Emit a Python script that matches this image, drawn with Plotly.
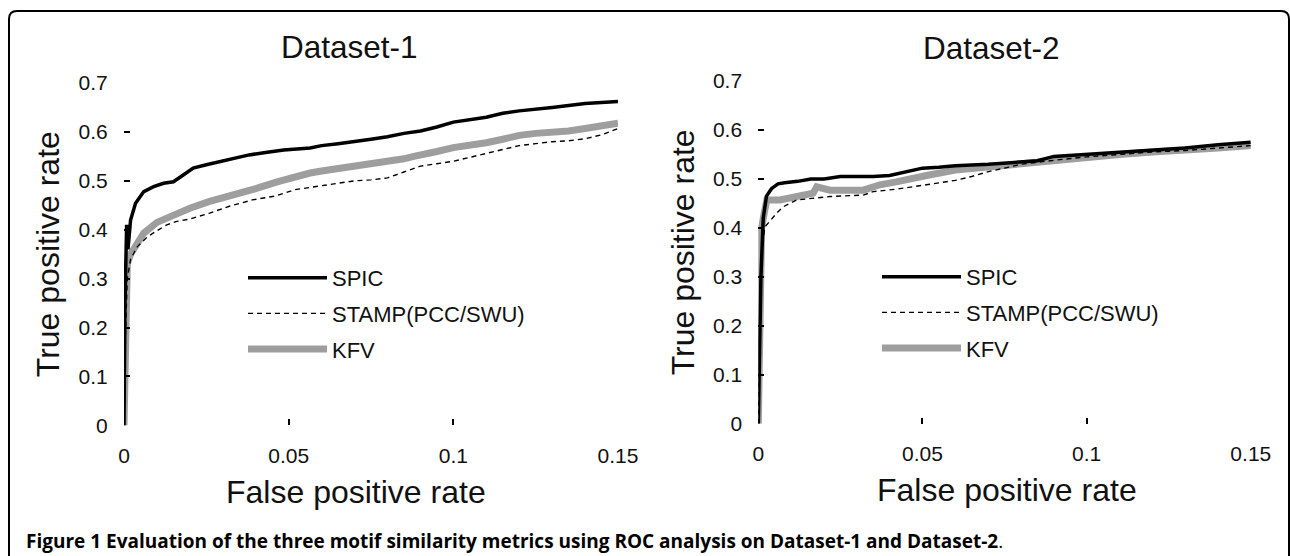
import plotly.graph_objects as go

# ---------------- data ----------------
series_names = ["SPIC", "STAMP(PCC/SWU)", "KFV"]
panel_titles = ["Dataset-1", "Dataset-2"]
x_title = "False positive rate"
y_title = "True positive rate"
caption_bold = "Figure 1 Evaluation of the three motif similarity metrics using ROC analysis on Dataset-1 and Dataset-2"

# Dataset-1
d1_spic_x = [0, 0.0003, 0.0008, 0.0012, 0.002, 0.0035, 0.006, 0.009, 0.012, 0.015, 0.018, 0.021, 0.025, 0.029,
             0.034, 0.038, 0.043, 0.0485, 0.0565, 0.06, 0.065, 0.07, 0.075, 0.08, 0.085, 0.09, 0.095, 0.1,
             0.105, 0.11, 0.115, 0.12, 0.13, 0.14, 0.15]
d1_spic_y = [0, 0.25, 0.41, 0.36, 0.42, 0.454, 0.478, 0.488, 0.495, 0.498, 0.512, 0.526, 0.533, 0.539,
             0.546, 0.553, 0.558, 0.563, 0.567, 0.572, 0.576, 0.58, 0.585, 0.59, 0.597, 0.602, 0.61, 0.62,
             0.625, 0.63, 0.638, 0.643, 0.65, 0.658, 0.662]

d1_stamp_x = [0, 0.0005, 0.001, 0.002, 0.004, 0.007, 0.01, 0.013, 0.016, 0.02, 0.026, 0.032, 0.039, 0.046,
              0.052, 0.057, 0.063, 0.07, 0.075, 0.08, 0.085, 0.09, 0.095, 0.1, 0.105, 0.11, 0.115, 0.12,
              0.125, 0.13, 0.135, 0.14, 0.145, 0.15]
d1_stamp_y = [0, 0.2, 0.3, 0.34, 0.365, 0.385, 0.398, 0.41, 0.417, 0.422, 0.434, 0.448, 0.461, 0.469,
              0.482, 0.487, 0.492, 0.5, 0.502, 0.506, 0.518, 0.53, 0.535, 0.54, 0.548, 0.556, 0.565, 0.572,
              0.576, 0.58, 0.582, 0.586, 0.594, 0.607]

d1_kfv_x = [0, 0.0005, 0.001, 0.002, 0.004, 0.006, 0.01, 0.016, 0.02, 0.026, 0.03, 0.036, 0.04, 0.0465,
            0.05, 0.0565, 0.06, 0.065, 0.07, 0.075, 0.08, 0.085, 0.088, 0.09, 0.095, 0.1, 0.105, 0.11,
            0.115, 0.12, 0.125, 0.13, 0.135, 0.14, 0.145, 0.15]
d1_kfv_y = [0, 0.18, 0.33, 0.35, 0.37, 0.393, 0.415, 0.434, 0.444, 0.458, 0.465, 0.478, 0.484, 0.498,
            0.505, 0.516, 0.52, 0.525, 0.53, 0.535, 0.538, 0.545, 0.55, 0.552, 0.56, 0.568, 0.572, 0.578,
            0.585, 0.593, 0.597, 0.598, 0.602, 0.607, 0.612, 0.618]

# Dataset-2
d2_spic_x = [0, 0.0008, 0.0015, 0.0025, 0.004, 0.006, 0.008, 0.012, 0.016, 0.02, 0.025, 0.03, 0.035, 0.04,
             0.045, 0.05, 0.055, 0.06, 0.07, 0.08, 0.085, 0.09, 0.1, 0.11, 0.12, 0.13, 0.14, 0.15]
d2_spic_y = [0, 0.3, 0.42, 0.465, 0.48, 0.49, 0.492, 0.495, 0.5, 0.5, 0.505, 0.505, 0.505, 0.507,
             0.515, 0.522, 0.524, 0.527, 0.53, 0.535, 0.537, 0.546, 0.55, 0.554, 0.558, 0.563, 0.57, 0.575]

d2_stamp_x = [0, 0.001, 0.002, 0.0056, 0.0076, 0.0117, 0.0218, 0.032, 0.035, 0.042, 0.0512, 0.06, 0.065,
              0.0701, 0.075, 0.08, 0.09, 0.1, 0.11, 0.12, 0.13, 0.14, 0.15]
d2_stamp_y = [0, 0.35, 0.402, 0.43, 0.443, 0.457, 0.464, 0.467, 0.474, 0.479, 0.488, 0.497, 0.505,
              0.515, 0.522, 0.53, 0.538, 0.545, 0.55, 0.555, 0.558, 0.563, 0.568]

d2_kfv_x = [0, 0.0005, 0.001, 0.0018, 0.0026, 0.0066, 0.012, 0.0167, 0.0178, 0.0218, 0.032, 0.037, 0.042,
            0.047, 0.052, 0.06, 0.07, 0.08, 0.09, 0.1, 0.11, 0.12, 0.13, 0.14, 0.15]
d2_kfv_y = [0, 0.2, 0.4, 0.43, 0.457, 0.457, 0.465, 0.471, 0.484, 0.477, 0.477, 0.488, 0.494,
            0.502, 0.508, 0.518, 0.525, 0.53, 0.537, 0.545, 0.55, 0.555, 0.558, 0.563, 0.568]

x_ticks = [0, 0.05, 0.1, 0.15]
y_ticks = [0, 0.1, 0.2, 0.3, 0.4, 0.5, 0.6, 0.7]

# ---------------- figure ----------------
W, H = 1290, 556
FONT = "Arial, 'Liberation Sans', sans-serif"
INK = "#111111"

styles = [
    dict(color="#000000", width=3.5),
    dict(color="#000000", width=1.4, dash="5px,4px"),
    dict(color="#9e9e9e", width=7),
]
zorders = [3, 2, 1]

fig = go.Figure()
panels = [
    ([d1_spic_x, d1_stamp_x, d1_kfv_x], [d1_spic_y, d1_stamp_y, d1_kfv_y], "x", "y", "legend"),
    ([d2_spic_x, d2_stamp_x, d2_kfv_x], [d2_spic_y, d2_stamp_y, d2_kfv_y], "x2", "y2", "legend2"),
]
for xs_list, ys_list, xa, ya, lg in panels:
    for i, name in enumerate(series_names):
        fig.add_trace(go.Scatter(
            x=xs_list[i], y=ys_list[i], mode="lines", name=name,
            line=dict(**styles[i]), xaxis=xa, yaxis=ya, legend=lg,
            legendgroup=lg + name, zorder=zorders[i], hoverinfo="skip",
        ))

def px_x(p):
    return p / W

def px_y(p):
    return 1 - p / H

axis_common = dict(
    showgrid=False, zeroline=False, showline=True, mirror=True,
    linecolor="#000000", linewidth=2, ticks="inside", ticklen=6, tickwidth=1.5,
    tickcolor="#000000", tickfont=dict(family=FONT, size=21, color=INK),
    title_font=dict(family=FONT, size=32, color=INK),
)

legend_common = dict(xanchor="left", yanchor="top", bgcolor="rgba(0,0,0,0)",
                     font=dict(family=FONT, size=22, color=INK),
                     itemwidth=79, tracegroupgap=4, traceorder="grouped")

fig.update_layout(
    width=W, height=H, margin=dict(l=0, r=0, t=0, b=0, autoexpand=False),
    paper_bgcolor="white", plot_bgcolor="white", showlegend=True,
    xaxis=dict(domain=[px_x(124), px_x(618)], range=[0, 0.15], tickvals=x_ticks,
               anchor="y", ticklabelstandoff=10, **axis_common),
    yaxis=dict(domain=[px_y(425.4), px_y(83)], range=[0, 0.7], tickvals=y_ticks,
               anchor="x", title=dict(text=y_title, standoff=9), ticklabelstandoff=10, **axis_common),
    xaxis2=dict(domain=[px_x(758.3), px_x(1250.8)], range=[0, 0.15], tickvals=x_ticks,
                anchor="y2", ticklabelstandoff=10, **axis_common),
    yaxis2=dict(domain=[px_y(423.7), px_y(81)], range=[0, 0.7], tickvals=y_ticks,
                anchor="x2", title=dict(text=y_title, standoff=9), ticklabelstandoff=10, **axis_common),
    legend=dict(x=px_x(243), y=px_y(257), **legend_common),
    legend2=dict(x=px_x(877), y=px_y(256), **legend_common),
)

# x-axis titles (placed as in the figure, slightly off-centre on the left panel)
for cx, cy in [(356, 492), (1007, 490)]:
    fig.add_annotation(text=x_title, x=px_x(cx), y=px_y(cy), xref="paper", yref="paper",
                       xanchor="center", yanchor="middle", showarrow=False,
                       font=dict(family=FONT, size=32, color=INK))

# subplot titles
fig.add_annotation(text=panel_titles[0], x=px_x(349), y=px_y(47), xref="paper", yref="paper",
                   xanchor="center", yanchor="middle",
                   showarrow=False, font=dict(family=FONT, size=31.5, color=INK))
fig.add_annotation(text=panel_titles[1], x=px_x(991), y=px_y(48), xref="paper", yref="paper",
                   xanchor="center", yanchor="middle",
                   showarrow=False, font=dict(family=FONT, size=31.5, color=INK))

# caption
fig.add_annotation(text="<b>" + caption_bold + "</b>.", x=px_x(24), y=px_y(541), xref="paper", yref="paper",
                   xanchor="left", yanchor="middle", showarrow=False,
                   font=dict(family="'Open Sans', sans-serif", size=19, color="#000000"))

# rounded frame (top + left edges, as in the figure box)
x0, x1 = px_x(9), px_x(1289)
yt, yb = px_y(11), px_y(560)
rx, ry = 8 / W, 8 / H
path = (f"M {x0},{yb} L {x0},{yt - ry} Q {x0},{yt} {x0 + rx},{yt} "
        f"L {x1 - rx},{yt} Q {x1},{yt} {x1},{yt - ry} L {x1},{yb}")
fig.add_shape(type="path", path=path, xref="paper", yref="paper",
              line=dict(color="#000000", width=2))

fig.write_html("out.html", config={"displayModeBar": False},
               post_script="document.body.style.margin='0';document.body.style.overflow='hidden';")
